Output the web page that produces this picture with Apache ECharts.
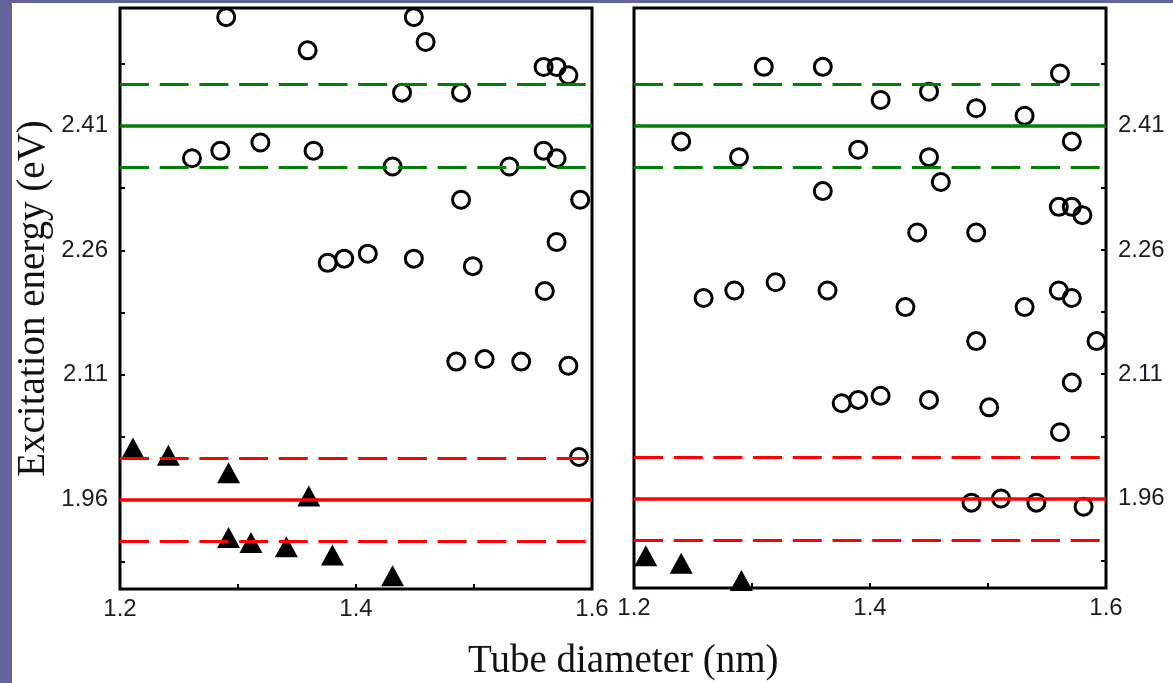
<!DOCTYPE html>
<html>
<head>
<meta charset="utf-8">
<script src="https://cdn.jsdelivr.net/npm/echarts@6/dist/echarts.min.js"></script>
<style>
html,body{margin:0;padding:0;background:#fff;}
#chart{width:1173px;height:683px;}
</style>
</head>
<body>
<div id="chart"></div>
<script>
// ---- data (tube diameter nm, excitation energy eV) ----
const leftCircles = [
  [1.290, 2.541], [1.389, 2.553], [1.449, 2.541], [1.459, 2.511], [1.359, 2.501],
  [1.559, 2.481], [1.570, 2.481], [1.580, 2.471], [1.439, 2.450], [1.489, 2.450],
  [1.261, 2.371], [1.285, 2.380], [1.319, 2.390], [1.364, 2.380], [1.431, 2.361],
  [1.530, 2.361], [1.559, 2.380], [1.570, 2.371], [1.489, 2.321], [1.590, 2.321],
  [1.570, 2.270], [1.376, 2.245], [1.390, 2.250], [1.410, 2.256], [1.449, 2.250],
  [1.499, 2.241], [1.560, 2.211], [1.485, 2.126], [1.509, 2.129], [1.540, 2.126],
  [1.580, 2.121], [1.589, 2.011]
];
const leftTriangles = [
  [1.211, 2.022], [1.241, 2.013], [1.292, 1.992], [1.360, 1.964], [1.292, 1.914],
  [1.311, 1.908], [1.341, 1.903], [1.380, 1.893], [1.431, 1.868]
];
const rightCircles = [
  [1.310, 2.481], [1.360, 2.481], [1.561, 2.473], [1.409, 2.441], [1.450, 2.451],
  [1.490, 2.431], [1.531, 2.422], [1.240, 2.391], [1.289, 2.372], [1.390, 2.381],
  [1.450, 2.372], [1.571, 2.391], [1.460, 2.342], [1.360, 2.331], [1.560, 2.312],
  [1.571, 2.312], [1.580, 2.302], [1.440, 2.281], [1.490, 2.281], [1.259, 2.202],
  [1.285, 2.211], [1.320, 2.221], [1.364, 2.211], [1.430, 2.191], [1.531, 2.191],
  [1.560, 2.211], [1.571, 2.202], [1.490, 2.150], [1.592, 2.150], [1.571, 2.100],
  [1.376, 2.075], [1.390, 2.079], [1.409, 2.084], [1.450, 2.079], [1.501, 2.070],
  [1.561, 2.040], [1.486, 1.955], [1.511, 1.960], [1.541, 1.955], [1.581, 1.950]
];
const rightTriangles = [
  [1.210, 1.891], [1.240, 1.882], [1.291, 1.861]
];
const greenLevels = [2.36, 2.41, 2.46];   // dashed, solid, dashed
const redLevels = [1.91, 1.96, 2.01];     // dashed, solid, dashed
const yTickValues = [1.885, 1.96, 2.035, 2.11, 2.185, 2.26, 2.335, 2.41, 2.485];
const yLabelValues = [1.96, 2.11, 2.26, 2.41];
const xLabelValues = [1.2, 1.4, 1.6];
const xTitle = 'Tube diameter (nm)';
const yTitle = 'Excitation energy (eV)';

// ---- styling ----
const DASH = [29, 10.7];
const labelFont = {fontFamily: 'Liberation Sans', fontSize: 24, color: '#1a1a28'};
const titleFont = {fontFamily: 'Liberation Serif', fontSize: 39, color: '#111111'};

function levelLines(levels, color) {
  return levels.map((v, i) => ({
    yAxis: v,
    lineStyle: {color: color, width: i === 1 ? 3.5 : 3, type: i === 1 ? 'solid' : DASH}
  }));
}

function xAxisFor(gridIndex) {
  return {
    type: 'value', gridIndex: gridIndex, min: 1.2, max: 1.6, interval: 0.1,
    axisLine: {show: false},
    axisTick: {show: true, inside: true, length: 5, lineStyle: {color: '#000', width: 2}},
    axisLabel: Object.assign({show: true, margin: 8, customValues: xLabelValues,
      formatter: v => v.toFixed(1)}, labelFont),
    splitLine: {show: false}
  };
}
function yAxisFor(gridIndex, position, withName) {
  const ax = {
    type: 'value', gridIndex: gridIndex, position: position, min: 1.852, max: 2.552,
    axisLine: {show: false},
    axisTick: {show: true, inside: true, length: 5, customValues: yTickValues,
      lineStyle: {color: '#000', width: 2}},
    axisLabel: Object.assign({show: true, margin: 12, customValues: yLabelValues,
      formatter: v => v.toFixed(2)}, labelFont),
    splitLine: {show: false}
  };
  if (withName) {
    ax.name = yTitle;
    ax.nameLocation = 'middle';
    ax.nameGap = 67;
    ax.nameTextStyle = titleFont;
  }
  return ax;
}

function panelSeries(idx, circles, triangles) {
  return [
    {
      type: 'line', xAxisIndex: idx, yAxisIndex: idx, data: [], z: 1, silent: true,
      markLine: {
        silent: true, symbol: ['none', 'none'], label: {show: false},
        data: levelLines(greenLevels, '#008000').concat(levelLines(redLevels, '#ff0000'))
      }
    },
    {
      type: 'scatter', xAxisIndex: idx, yAxisIndex: idx, data: circles, z: 3, clip: true,
      symbol: 'circle', symbolSize: 17,
      itemStyle: {color: 'rgba(0,0,0,0)', borderColor: '#000', borderWidth: 3, opacity: 1}
    },
    {
      type: 'scatter', xAxisIndex: idx, yAxisIndex: idx, data: triangles, z: 3, clip: true,
      symbol: 'triangle', symbolSize: [23, 21],
      itemStyle: {color: '#000', opacity: 1}
    }
  ];
}

const chart = echarts.init(document.getElementById('chart'), null, {renderer: 'canvas'});
chart.setOption({
  backgroundColor: '#ffffff',
  animation: false,
  title: {
    text: xTitle, left: 463, top: 637,
    textStyle: {fontFamily: titleFont.fontFamily, fontSize: titleFont.fontSize,
      color: titleFont.color, fontWeight: 'normal'}
  },
  graphic: [
    {type: 'rect', left: 0, top: 0, shape: {width: 12, height: 683}, style: {fill: '#63639a'}, z: 100},
    {type: 'rect', left: 0, top: 0, shape: {width: 1173, height: 3}, style: {fill: '#63639a'}, z: 100}
  ],
  grid: [
    {left: 120, top: 8, width: 472, height: 581, show: true, borderColor: '#000', borderWidth: 3,
      backgroundColor: '#fff', containLabel: false},
    {left: 634, top: 8, width: 472, height: 580, show: true, borderColor: '#000', borderWidth: 3,
      backgroundColor: '#fff', containLabel: false}
  ],
  xAxis: [xAxisFor(0), xAxisFor(1)],
  yAxis: [yAxisFor(0, 'left', true), yAxisFor(1, 'right', false)],
  series: panelSeries(0, leftCircles, leftTriangles).concat(panelSeries(1, rightCircles, rightTriangles))
});
</script>
</body>
</html>
